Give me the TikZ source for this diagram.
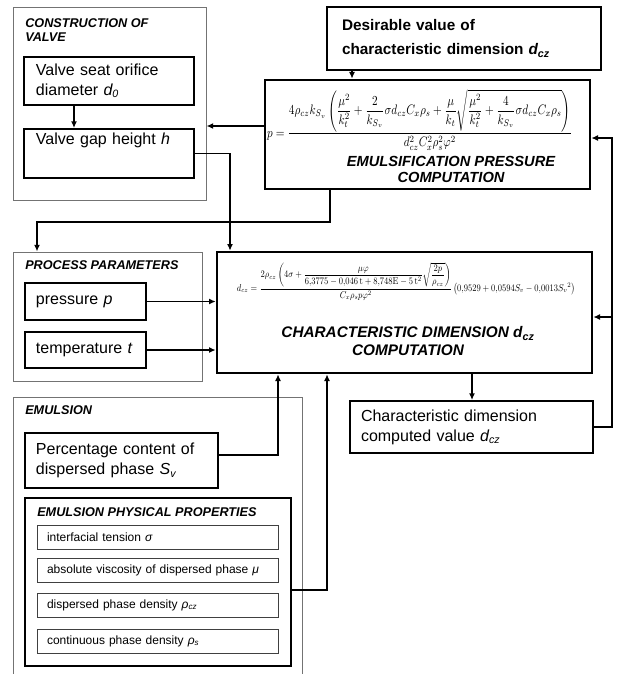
\documentclass[tikz,border=0pt]{standalone}
\usepackage{amsmath}
\usepackage{amssymb}
\usepackage{graphicx}
\usepackage[no-math]{fontspec}
\setmainfont{Liberation Sans}
\usepackage{tikz}
\usetikzlibrary{arrows.meta}

\tikzset{
	blk/.style={draw, line width=1.5pt, align=left, inner ysep=0pt, font=\fontsize{12}{15}\selectfont},
	grp/.style={draw=black!55, line width=0.75pt},
	comp/.style={draw, line width=2pt},
	prop/.style={draw=black!75, line width=0.75pt, align=left, inner xsep=7.5pt, inner ysep=0pt, text width=165.75pt, minimum width=180.75pt, minimum height=18pt, font=\fontsize{9}{11}\selectfont},
	ttl/.style={anchor=north west, inner sep=0pt, align=left, font=\fontsize{9.5}{10.5}\selectfont\bfseries\itshape},
	bigttl/.style={align=center, inner sep=0pt, font=\fontsize{11.5}{13}\selectfont\bfseries\itshape},
	arr/.style={line width=1.1pt, -{Latex[length=5pt,width=4.5pt]}},
	ln/.style={line width=1.1pt}
}

\begin{document}
\begin{tikzpicture}[x=0.75pt, y=-0.75pt]
		\useasboundingbox (0,0) rectangle (617,674);
		\node[grp, minimum width=144.75pt, minimum height=144pt] (cov) at (109.5,104) {};
		\node[ttl] (tcov) at (25,18) {CONSTRUCTION OF\\VALVE};
		\node[blk, inner xsep=9pt, text width=109.5pt, minimum height=36pt] (d0) at (109,81) {Valve seat orifice\\diameter \textit{d\textsubscript{0}}};
		\node[blk, inner xsep=9pt, text width=109.5pt, minimum height=36.75pt] (h) at (109,153.5) {Valve gap height \textit{h}\\[2pt]\strut};
		\node[blk, inner xsep=11.25pt, text width=183pt, minimum height=47.25pt, font=\fontsize{11.5}{18}\selectfont\bfseries] (des) at (464,38.5) {Desirable value of\\characteristic dimension \textit{d\textsubscript{cz}}};
		\node[comp, minimum width=243.75pt, minimum height=81.75pt] (epc) at (427.5,134.5) {};
		\node[inner sep=0pt] (fp) at (419.5,119.5) {\resizebox*{228.75pt}{45.75pt}{$\displaystyle p=\frac{4\rho_{cz}k_{S_v}\left(\dfrac{\mu^2}{k_t^2}+\dfrac{2}{k_{S_v}}\sigma d_{cz}C_x\rho_s+\dfrac{\mu}{k_t}\sqrt{\dfrac{\mu^2}{k_t^2}+\dfrac{4}{k_{S_v}}\sigma d_{cz}C_x\rho_s}\right)}{d_{cz}^2C_x^2\rho_s^2\varphi^2}$}};
		\node[bigttl, font=\fontsize{11}{12}\selectfont\bfseries\itshape] (tepc) at (451,169.5) {EMULSIFICATION PRESSURE\\COMPUTATION};
		\node[grp, minimum width=141.75pt, minimum height=96.75pt] (ppo) at (107.5,316.5) {};
		\node[ttl] (tppo) at (25,260) {PROCESS PARAMETERS};
		\node[blk, inner xsep=8.25pt, text width=74.25pt, minimum height=27.75pt] (prs) at (85.5,301.5) {pressure \textit{p}};
		\node[blk, inner xsep=8.25pt, text width=74.25pt, minimum height=27pt] (tmp) at (85.5,350) {temperature \textit{t}};
		\node[comp, minimum width=281.25pt, minimum height=90.75pt] (cdc) at (404.5,312.5) {};
		\node[inner sep=0pt] (fd) at (406,281.5) {\resizebox*{253.5pt}{27.75pt}{$\displaystyle d_{cz}=\frac{2\rho_{cz}\left(4\sigma+\dfrac{\mu\varphi}{6{,}3775-0{,}046\,\mathrm{t}+8{,}748\mathrm{E}-5\,\mathrm{t}^2}\sqrt{\dfrac{2p}{\rho_{cz}}}\right)}{C_x\rho_s p\varphi^2}\left(0{,}9529+0{,}0594S_v-0{,}0013S_v{}^2\right)$}};
		\node[bigttl] (tcdc) at (408,341) {CHARACTERISTIC DIMENSION \textit{d}\textsubscript{cz}\\COMPUTATION};
		\node[blk, inner xsep=8.25pt, text width=165.75pt, minimum height=39pt] (cdv) at (471.5,427) {Characteristic dimension\\computed value \textit{d\textsubscript{cz}}};
		\draw[grp] (13,674) |- (302,397) -- (302,674);
		\node[ttl] (temu) at (25,405) {EMULSION};
		\node[blk, inner xsep=8.25pt, text width=128.25pt, minimum height=41.25pt] (pct) at (121.5,460.5) {Percentage content of\\dispersed phase \textit{S\textsubscript{v}}};
		\node[comp, line width=1.5pt, minimum width=199.5pt, minimum height=126pt] (epp) at (158,582) {};
		\node[ttl] (tepp) at (37,507) {EMULSION PHYSICAL PROPERTIES};
		\node[prop] (sig) at (157.5,537) {interfacial tension \textit{σ}};
		\node[prop] (mu) at (157.5,570) {absolute viscosity of dispersed phase \textit{μ}};
		\node[prop] (rcz) at (157.5,605.5) {dispersed phase density \textit{ρ\textsubscript{cz}}};
		\node[prop] (rs) at (157.5,641) {continuous phase density \textit{ρ\textsubscript{s}}};
		\coordinate (bend) at (37,222);
		\coordinate (fb) at (612,317);
		\draw[arr] (d0.south -| 74,0) -- (h.north -| 74,0);
		\draw[arr] (des.south -| 352,0) -- (epc.north -| 352,0);
		\draw[arr] (epc.west |- 0,126) -- (cov.east |- 0,126);
		\draw[arr] (h.east) -| (cdc.north -| 230,0);
		\draw[arr] (epc.south -| 330,0) |- (bend) -- (ppo.north -| bend);
		\draw[arr] (prs.east) -- (prs.east -| cdc.west);
		\draw[arr] (tmp.east) -- (tmp.east -| cdc.west);
		\draw[arr] (pct.east |- 0,455) -| (cdc.south -| 278,0);
		\draw[arr] (epp.east |- 0,590) -| (cdc.south -| 327,0);
		\draw[arr] (cdc.south -| 472,0) -- (cdv.north -| 472,0);
		\draw[ln] (cdv.east) -| (fb);
		\draw[arr] (fb) -- (cdc.east |- fb);
		\draw[arr] (fb) |- (epc.east |- 0,138);
\end{tikzpicture}
\end{document}
